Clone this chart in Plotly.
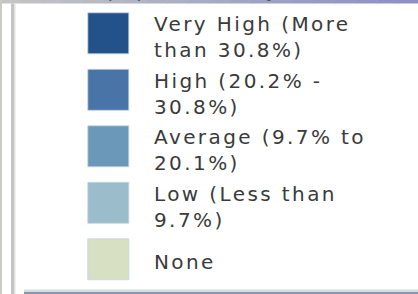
import plotly.graph_objects as go

# Data
categories = ["Very High", "High", "Average", "Low", "None"]
labels = [
    "Very High (More<br>than 30.8%)",
    "High (20.2% -<br>30.8%)",
    "Average (9.7% to<br>20.1%)",
    "Low (Less than<br>9.7%)",
    "None",
]
colors = ["#23528b", "#4874a8", "#6b98b9", "#9bbccb", "#d8e0c4"]
header = "(population) by area"

W, H = 418, 294
y0, step = 33.3, 56.5
sq_x = 108.3
ys = [y0 + i * step for i in range(len(categories))]

fig = go.Figure()
fig.add_trace(go.Scatter(
    x=[sq_x] * len(categories), y=ys, mode="markers",
    marker=dict(symbol="square", size=41, color=colors,
                line=dict(color="rgba(200,210,225,0.8)", width=1)),
    hoverinfo="text", text=categories, showlegend=False,
))

for lab, y in zip(labels, ys):
    two = "<br>" in lab
    fig.add_annotation(
        x=152, y=y + (4 if two else 3), xref="x", yref="y", text=lab,
        showarrow=False, xanchor="left", yanchor="middle", align="left",
        font=dict(family="DejaVu Sans", size=20, color="#3a3a3a"),
    )

# header fragment cut at top
fig.add_annotation(x=120, y=3, xref="x", yref="y", text=header, showarrow=False,
                   xanchor="left", yanchor="bottom",
                   font=dict(family="DejaVu Sans", size=19, color="#555555"))

shapes = []
# top gradient bar
n = 20
c0 = (196, 196, 196)
c1 = (140, 144, 198)
for i in range(n):
    t = i / (n - 1)
    c = tuple(int(c0[k] + (c1[k] - c0[k]) * t) for k in range(3))
    shapes.append(dict(type="rect", xref="x", yref="y", x0=W * i / n, x1=W * (i + 1) / n + 0.5,
                       y0=0, y1=3.5, fillcolor="rgb(%d,%d,%d)" % c, line=dict(width=0), layer="above"))
# left strip
shapes.append(dict(type="rect", xref="x", yref="y", x0=0, x1=2, y0=0, y1=H,
                   fillcolor="#c8cac4", line=dict(width=0)))
shapes.append(dict(type="rect", xref="x", yref="y", x0=11, x1=14, y0=3.5, y1=H,
                   fillcolor="#c4c4c4", line=dict(width=0)))
shapes.append(dict(type="rect", xref="x", yref="y", x0=14, x1=15.5, y0=3.5, y1=H,
                   fillcolor="#e2e2e2", line=dict(width=0)))
# bottom line
shapes.append(dict(type="rect", xref="x", yref="y", x0=24, x1=W, y0=289.5, y1=292,
                   fillcolor="#dcdcdc", line=dict(width=0)))
shapes.append(dict(type="rect", xref="x", yref="y", x0=24, x1=W, y0=292, y1=H,
                   fillcolor="#7f98b4", line=dict(width=0)))

fig.update_layout(
    width=W, height=H, margin=dict(l=0, r=0, t=0, b=0),
    paper_bgcolor="white", plot_bgcolor="white",
    xaxis=dict(range=[0, W], visible=False, fixedrange=True),
    yaxis=dict(range=[H, 0], visible=False, fixedrange=True),
    shapes=shapes,
)

post = (
    "document.body.style.margin='0';"
    "document.body.style.overflow='hidden';"
    "document.querySelectorAll('.annotation-text').forEach(function(e){e.style.letterSpacing='2.4px';});"
)
fig.write_html("out.html", post_script=post, config={"displayModeBar": False})
